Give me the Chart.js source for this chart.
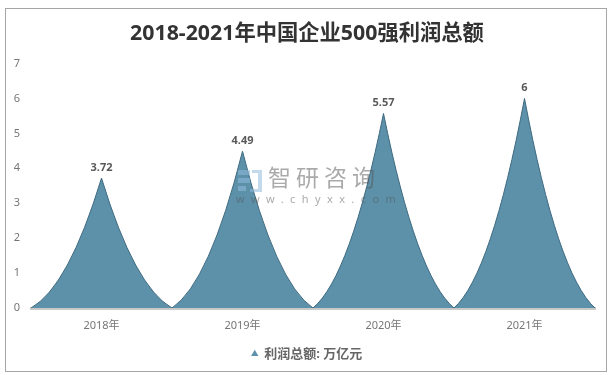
<!DOCTYPE html>
<html>
<head>
<meta charset="utf-8">
<script src="https://cdn.jsdelivr.net/npm/chart.js@4/dist/chart.umd.min.js"></script>
<style>
body{margin:0;background:#fff}
#box{position:absolute;left:5px;top:8px;width:600px;height:362px;border:1px solid #a6a6a6}
#wrap{position:absolute;left:0;top:0;width:614px;height:375px}
</style>
</head>
<body>
<div id="box"></div>
<div id="wrap"><canvas id="c"></canvas></div>
<script>
const categories = ["2018年","2019年","2020年","2021年"]
const profit = [3.72,4.49,5.57,6]
const seriesName = "利润总额: 万亿元"
const titleText = "2018-2021年中国企业500强利润总额"
const fontName = '"Noto Sans","Noto Sans CJK SC",sans-serif'

// bars become the pointed curved spikes
function spikePath(ctx,bar){
    let half = bar.width/2
    let rise = (bar.base-bar.y)*0.16
    ctx.beginPath()
    ctx.moveTo(bar.x-half,bar.base)
    ctx.quadraticCurveTo(bar.x-half*0.47,bar.base-rise,bar.x,bar.y)
    ctx.quadraticCurveTo(bar.x+half*0.47,bar.base-rise,bar.x+half,bar.base)
}
Chart.BarElement.prototype.draw = function(ctx){
    ctx.save()
    spikePath(ctx,this)
    ctx.closePath()
    ctx.fillStyle = this.options.backgroundColor
    ctx.fill()
    spikePath(ctx,this)
    ctx.strokeStyle = this.options.borderColor
    ctx.lineWidth = 1
    ctx.stroke()
    ctx.restore()
}

const valueLabels = {
    id:"valueLabels",
    afterDatasetsDraw(chart){
        let ctx = chart.ctx
        ctx.save()
        ctx.font = "bold 11px "+fontName
        ctx.fillStyle = "#595959"
        ctx.textAlign = "center"
        ctx.textBaseline = "bottom"
        chart.getDatasetMeta(0).data.forEach((bar,i)=>{
            ctx.fillText(String(profit[i]),bar.x,bar.y-5)
        })
        ctx.restore()
    }
}

const watermark = {
    id:"watermark",
    afterDraw(chart){
        let ctx = chart.ctx
        ctx.save()
        ctx.globalAlpha = 0.55
        ctx.fillStyle = "#8fbcdc"
        ctx.fillRect(238,170,12,5)
        ctx.fillRect(238,178,12,5)
        ctx.fillRect(238,186,8,5)
        ctx.fillRect(252,170,10,3)
        ctx.fillRect(258,173,4,16)
        ctx.fillRect(250,189,12,3)
        ctx.globalAlpha = 0.5
        ctx.fillStyle = "#555555"
        ctx.textBaseline = "middle"
        ctx.font = "23px "+fontName
        ctx.letterSpacing = "5px"
        ctx.fillText("智研咨询",268,179)
        ctx.font = "11px "+fontName
        ctx.letterSpacing = "6.4px"
        ctx.fillText("www.chyxx.com",236,200)
        ctx.restore()
    }
}

new Chart(document.getElementById("c"),{
    type:"bar",
    data:{
        labels:categories,
        datasets:[{
            label:seriesName,
            data:profit,
            backgroundColor:"#5c91a9",
            borderColor:"#3f6a80",
            barPercentage:1,
            categoryPercentage:1
        }]
    },
    options:{
        responsive:true,
        maintainAspectRatio:false,
        animation:false,
        layout:{padding:{left:6,right:6,top:0,bottom:4.5}},
        scales:{
            x:{
                grid:{display:false,drawTicks:false},
                border:{color:"#c9c9c9",width:3},
                ticks:{color:"#767676",font:{size:11,family:fontName},padding:11},
                afterFit(s){s.height = 25.5}
            },
            y:{
                min:0,
                max:7,
                grid:{display:false,drawTicks:false},
                border:{display:false},
                ticks:{stepSize:1,color:"#767676",font:{size:11,family:fontName},padding:11},
                afterFit(s){s.width = 25}
            },
            // empty axis, only keeps the right margin so title and legend stay centred
            yRight:{
                position:"right",
                min:0,
                max:7,
                grid:{display:false,drawTicks:false},
                border:{display:false},
                ticks:{display:false},
                afterFit(s){s.width = 13}
            }
        },
        plugins:{
            title:{
                display:true,
                text:titleText,
                color:"#333333",
                font:{size:21.3,weight:"bold",family:fontName},
                padding:{top:21,bottom:17}
            },
            legend:{
                position:"bottom",
                labels:{
                    usePointStyle:true,
                    pointStyle:"triangle",
                    boxWidth:6,
                    boxHeight:6,
                    color:"#666666",
                    font:{size:13,weight:"bold",family:fontName},
                    padding:14
                }
            },
            tooltip:{enabled:false}
        }
    },
    plugins:[valueLabels,watermark]
})
</script>
</body>
</html>
